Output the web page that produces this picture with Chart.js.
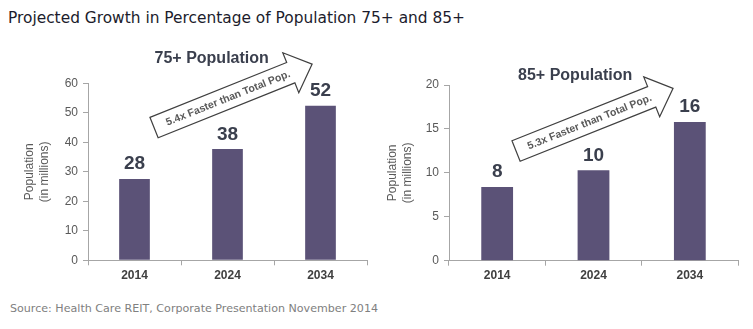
<!DOCTYPE html>
<html>
<head>
<meta charset="utf-8">
<script src="https://cdn.jsdelivr.net/npm/chart.js@4.4.0/dist/chart.umd.min.js"></script>
<style>
  body { margin: 0; width: 753px; height: 329px; background: #fff; position: relative; overflow: hidden; }
  #title { position: absolute; left: 8px; top: 10px; font-family: "DejaVu Sans"; font-size: 15.4px; line-height: 16px; color: #1c1c2c; white-space: nowrap; }
  #source { position: absolute; left: 10px; top: 303px; font-family: "DejaVu Sans"; font-size: 11.1px; line-height: 12px; color: #808080; white-space: nowrap; }
  canvas { position: absolute; top: 40px; }
</style>
</head>
<body>
<div id="title">Projected Growth in Percentage of Population 75+ and 85+</div>
<canvas id="c75" width="376" height="250" style="left:0"></canvas>
<canvas id="c85" width="377" height="250" style="left:376px"></canvas>
<div id="source">Source: Health Care REIT, Corporate Presentation November 2014</div>
<script>
const years = ['2014', '2024', '2034'];
const pop75 = [27.6, 37.7, 52.4];   // millions
const pop85 = [8.4, 10.3, 15.8];
const yTicks75 = { max: 60, step: 10 };
const yTicks85 = { max: 20, step: 5 };

const BAR = '#5b5277';
const GREY = '#595959';
const AXIS = '#a6a6a6';

Chart.defaults.font.family = 'Liberation Sans, Arial, sans-serif';

// titles, value labels and the "faster than" arrow
const extras = {
  id: 'extras',
  afterDatasetsDraw(chart, args, o) {
    const ctx = chart.ctx;
    const x = chart.scales.x, y = chart.scales.y;
    const ca = chart.chartArea;
    ctx.save();
    // value labels
    ctx.fillStyle = '#3a3f4d';
    ctx.font = 'bold 19px Liberation Sans';
    ctx.textAlign = 'center';
    ctx.textBaseline = 'alphabetic';
    chart.getDatasetMeta(0).data.forEach((bar, i) => {
      ctx.fillText(Math.round(chart.data.datasets[0].data[i]), bar.x, bar.y - 9.5);
    });
    // section title
    ctx.font = 'bold 16px Liberation Sans';
    ctx.fillText(o.title, x.getPixelForValue(o.titleAt), ca.top - o.titleGap);
    // arrow
    const S = { x: x.getPixelForValue(o.from[0]), y: y.getPixelForValue(o.from[1]) };
    const T = { x: x.getPixelForValue(o.to[0]), y: y.getPixelForValue(o.to[1]) };
    const len = Math.hypot(T.x - S.x, T.y - S.y);
    const hw = 11, HW = 21.5, HL = 23;
    ctx.translate(S.x, S.y);
    ctx.rotate(Math.atan2(T.y - S.y, T.x - S.x));
    ctx.beginPath();
    ctx.moveTo(0, -hw);
    ctx.lineTo(len - HL, -hw);
    ctx.lineTo(len - HL, -HW);
    ctx.lineTo(len, 0);
    ctx.lineTo(len - HL, HW);
    ctx.lineTo(len - HL, hw);
    ctx.lineTo(0, hw);
    ctx.closePath();
    ctx.fillStyle = '#fff';
    ctx.fill();
    ctx.strokeStyle = '#404040';
    ctx.lineWidth = 1.2;
    ctx.stroke();
    ctx.fillStyle = GREY;
    ctx.font = 'bold 10.5px Liberation Sans';
    ctx.textBaseline = 'middle';
    ctx.fillText(o.text, (len - HL) / 2 + 6, 0.5);
    ctx.restore();
  }
};

function makeChart(id, values, ticks, cfg) {
  return new Chart(document.getElementById(id), {
    type: 'bar',
    data: {
      labels: years,
      datasets: [{ data: values, backgroundColor: BAR, categoryPercentage: 1, barPercentage: 0.33 }]
    },
    options: {
      responsive: false,
      animation: false,
      layout: { padding: { left: 0, right: cfg.padRight, top: cfg.padTop, bottom: 0 } },
      plugins: {
        legend: { display: false },
        tooltip: { enabled: false },
        extras: cfg.extras
      },
      scales: {
        x: {
          grid: { offset: true, drawOnChartArea: false, drawTicks: true, tickLength: 5, color: AXIS },
          border: { color: AXIS },
          ticks: { color: '#404040', font: { size: 12, weight: 'bold' }, padding: 3 },
          afterFit: s => { s.height = cfg.xHeight; }
        },
        y: {
          min: 0,
          max: ticks.max,
          grid: { drawOnChartArea: false, drawTicks: true, tickLength: 5, color: AXIS },
          border: { color: AXIS },
          ticks: { stepSize: ticks.step, color: GREY, font: { size: 12 }, padding: 5 },
          title: {
            display: true,
            text: ['Population', '(in millions)'],
            color: GREY,
            font: { size: 12 },
            padding: { top: cfg.yTitlePad, bottom: 0 }
          },
          afterFit: s => { s.width = cfg.yWidth; }
        }
      }
    },
    plugins: [extras]
  });
}

makeChart('c75', pop75, yTicks75, {
  padRight: 9, padTop: 43.3, xHeight: 29.7, yWidth: 88, yTitlePad: 22.8,
  extras: { title: '75+ Population', titleAt: 0.83, titleGap: 20,
            text: '5.4x Faster than Total Pop.', from: [0.21, 45.0], to: [1.91, 66.5] }
});

makeChart('c85', pop85, yTicks85, {
  padRight: 15, padTop: 45, xHeight: 29.3, yWidth: 73, yTitlePad: 9.8,
  extras: { title: '85+ Population', titleAt: 0.81, titleGap: 5,
            text: '5.3x Faster than Total Pop.', from: [0.196, 12.49], to: [1.826, 19.62] }
});
</script>
</body>
</html>
